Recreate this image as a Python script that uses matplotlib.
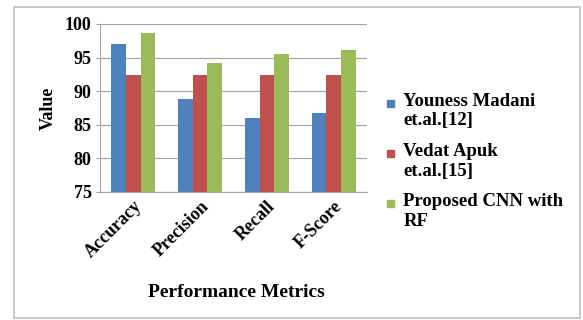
import numpy as np
import matplotlib.pyplot as plt
from matplotlib.patches import Rectangle

# Performance comparison of the three methods
metrics = ["Accuracy", "Precision", "Recall", "F-Score"]
series_names = ["Youness Madani\net.al.[12]", "Vedat Apuk\net.al.[15]", "Proposed CNN with\nRF"]
madani = [97.0, 88.9, 86.0, 86.8]
apuk = [92.4, 92.4, 92.4, 92.4]
proposed = [98.6, 94.2, 95.5, 96.1]
colors = ["#4F81BD", "#C0504D", "#9BBB59"]

plt.rcParams["font.family"] = "Liberation Serif"
plt.rcParams["font.weight"] = "bold"

fig = plt.figure(figsize=(5.83, 3.2), dpi=100)
ax = fig.add_axes([0.1715, 0.40, 0.458, 0.525])

x = np.arange(len(metrics))
width = 0.22
for i, (vals, c) in enumerate(zip([madani, apuk, proposed], colors)):
    ax.bar(x + (i - 1) * width, vals, width, color=c, zorder=3)

ax.set_ylim(75, 100)
ax.set_xlim(-0.5, len(metrics) - 0.5)
ax.set_yticks(np.arange(75, 101, 5))
ax.yaxis.grid(True, color="#a6a6a6", lw=0.9, zorder=0)
for s in ["top", "right"]:
    ax.spines[s].set_visible(False)
for s in ["left", "bottom"]:
    ax.spines[s].set_color("#a6a6a6")
ax.tick_params(axis="y", length=3, color="#a6a6a6", labelsize=13, pad=3)
ax.tick_params(axis="x", length=0, labelsize=13, pad=4)
ax.set_xticks(x)
ax.set_xticklabels(metrics, rotation=45, ha="right", rotation_mode="anchor",
                   fontweight="bold")
for lbl in ax.get_yticklabels():
    lbl.set_fontweight("bold")
ax.set_ylabel("Value", fontsize=13, fontweight="bold", labelpad=6)
fig.text(0.405, 0.085, "Performance Metrics", ha="center", va="center",
         fontsize=14, fontweight="bold")

# legend drawn by hand so the swatch sits beside the first line of each label
for i, (name, c) in enumerate(zip(series_names, colors)):
    y = 0.678 - i * 0.157
    fig.patches.append(Rectangle((0.664, y - 0.012), 0.011, 0.022,
                                 transform=fig.transFigure, color=c))
    fig.text(0.692, y + 0.032, name, ha="left", va="top", fontsize=13.5,
             fontweight="bold", linespacing=1.2, transform=fig.transFigure)

# outer chart frame
fig.patches.append(Rectangle((0.024, 0.006), 0.97, 0.972, transform=fig.transFigure,
                             fill=False, edgecolor="#bfbfbf", lw=1.2))

fig.savefig("out.png", dpi=100)
